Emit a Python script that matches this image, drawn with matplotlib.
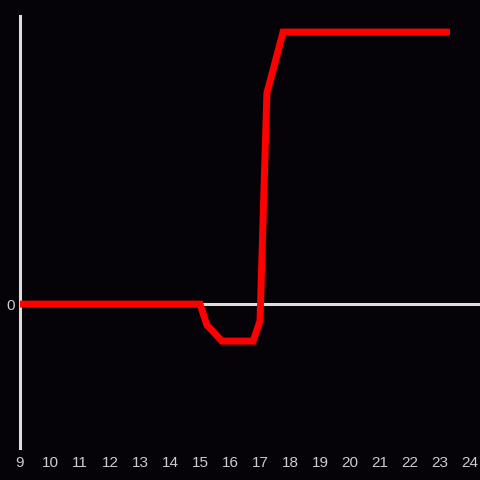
import matplotlib
matplotlib.use('Agg')
import matplotlib.pyplot as plt

hours = [9, 15, 15.23, 15.73, 16.77, 17.0, 17.23, 17.77, 23.33]
values = [0, 0, -7.7, -13.6, -13.6, -6.2, 77.6, 100, 100]
x_ticks = list(range(9, 25))

bg = '#050308'
axis_col = '#dddddd'

plt.rcParams['font.family'] = ['Liberation Sans', 'DejaVu Sans']

fig = plt.figure(figsize=(4.8, 4.8), dpi=100, facecolor=bg)
ax = fig.add_axes([20 / 480, 32 / 480, 460 / 480, 432 / 480])
ax.set_facecolor(bg)

ax.set_xlim(9, 24.333)
ax.set_ylim(-52.9, 105.9)

ax.axhline(0, color=axis_col, lw=2.2, zorder=1)
ax.plot(hours, values, color='#ff0000', lw=5, solid_joinstyle='miter',
        solid_capstyle='butt', zorder=3)

for s in ['top', 'right', 'bottom']:
    ax.spines[s].set_visible(False)
ax.spines['left'].set_color(axis_col)
ax.spines['left'].set_linewidth(2.2)

ax.set_xticks(x_ticks)
ax.set_xticklabels([str(t) for t in x_ticks])
ax.set_yticks([0])
ax.set_yticklabels(['0'])
ax.tick_params(length=0, colors='#cccccc', labelsize=11)
ax.tick_params(axis='x', pad=5.5)
ax.tick_params(axis='y', pad=4)

fig.savefig('out.png', dpi=100, facecolor=bg)
